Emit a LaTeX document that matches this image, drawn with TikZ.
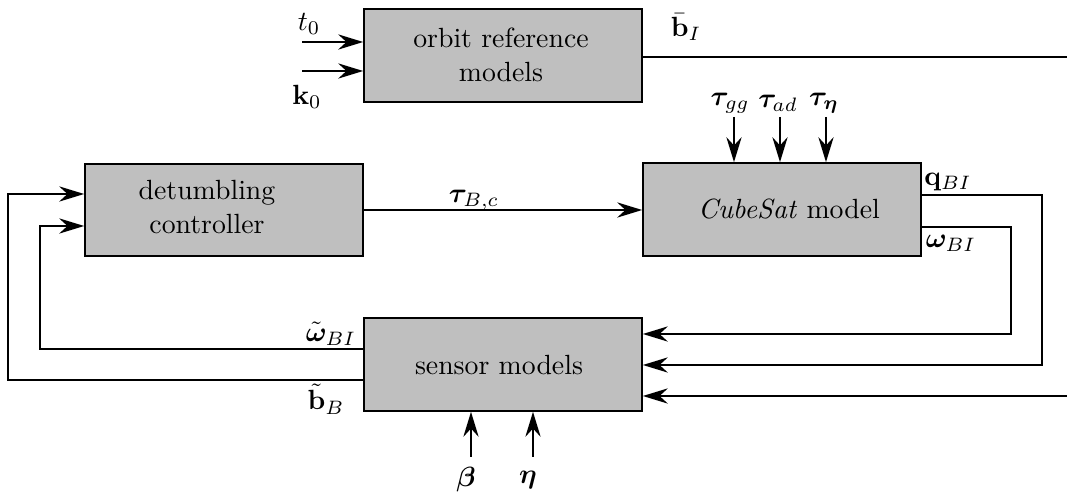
\documentclass[tikz,border=0pt]{standalone}
\usepackage{amsmath,bm}
\usetikzlibrary{arrows.meta,calc}
\begin{document}
\begin{tikzpicture}[x=0.36pt,y=-0.36pt,
  blk/.style={draw,line width=0.7pt,fill=black!25,minimum width=100pt,minimum height=33.4pt,inner sep=0pt},
  wire/.style={line width=0.6pt},
  arr/.style={wire,-{Stealth[length=9pt,width=5.5pt,inset=3pt]}},
  lbl/.style={inner sep=0pt}]
\path[use as bounding box] (0,0) rectangle (1067,497);
% blocks
\node[blk] (orbit) at (503,55.5) {};
\node[blk] (det) at (224,210) {};
\node[blk] (cube) at (782,209.5) {};
\node[blk] (sens) at (503,364.5) {};
\node[lbl,align=center] (orbittxt) at (501,55) {orbit reference\\models};
\node[lbl,align=center] (dettxt) at (207,207) {detumbling\\controller};
\node[lbl] (cubetxt) at (789,209) {\textit{CubeSat} model};
\node[lbl] (senstxt) at (499,365) {sensor models};
% free ends
\coordinate (t0s) at (302,42);
\coordinate (k0s) at (302,71);
\coordinate (bIe) at (1067,57);
\coordinate (tg) at (734,117);
\coordinate (ta) at (780,117);
\coordinate (te) at (826,117);
\coordinate (qa) at (1042,195);
\coordinate (qb) at (1042,365);
\coordinate (oa) at (1011,227);
\coordinate (ob) at (1011,334);
\coordinate (bin) at (1067,396);
\coordinate (wa) at (40,349);
\coordinate (wb) at (40,226);
\coordinate (ba) at (8,380);
\coordinate (bb) at (8,194);
\coordinate (betas) at (471,457);
\coordinate (etas) at (533,457);
% connectors
\draw[arr] (t0s) -- (t0s -| orbit.west);
\draw[arr] (k0s) -- (k0s -| orbit.west);
\draw[wire] (bIe -| orbit.east) -- (bIe);
\draw[arr] (tg) -- (tg |- cube.north);
\draw[arr] (ta) -- (ta |- cube.north);
\draw[arr] (te) -- (te |- cube.north);
\draw[arr] (det.east) -- (det.east -| cube.west);
\draw[arr] (qa -| cube.east) -- (qa) -- (qb) -- (qb -| sens.east);
\draw[arr] (oa -| cube.east) -- (oa) -- (ob) -- (ob -| sens.east);
\draw[arr] (bin) -- (bin -| sens.east);
\draw[arr] (wa -| sens.west) -- (wa) -- (wb) -- (wb -| det.west);
\draw[arr] (ba -| sens.west) -- (ba) -- (bb) -- (bb -| det.west);
\draw[arr] (betas) -- (betas |- sens.south);
\draw[arr] (etas) -- (etas |- sens.south);
% labels
\node[lbl] (lt0) at (309,24) {$t_0$};
\node[lbl] (lk0) at (307,97) {$\mathbf{k}_0$};
\node[lbl] (lbI) at (686,27) {$\bar{\mathbf{b}}_I$};
\node[lbl] (ltg) at (730,103) {$\bm{\tau}_{gg}$};
\node[lbl] (lta) at (778,103) {$\bm{\tau}_{ad}$};
\node[lbl] (lte) at (824,103) {$\bm{\tau}_{\bm{\eta}}$};
\node[lbl] (ltc) at (474,200) {$\bm{\tau}_{B,c}$};
\node[lbl] (lq) at (948,182) {$\mathbf{q}_{BI}$};
\node[lbl] (lo) at (951,243) {$\bm{\omega}_{BI}$};
\node[lbl] (lwt) at (331,334) {$\tilde{\bm{\omega}}_{BI}$};
\node[lbl] (lbt) at (326,399) {$\tilde{\mathbf{b}}_B$};
\node[lbl] (lbeta) at (466,480) {$\bm{\beta}$};
\node[lbl] (leta) at (528,480) {$\bm{\eta}$};
\end{tikzpicture}
\end{document}
